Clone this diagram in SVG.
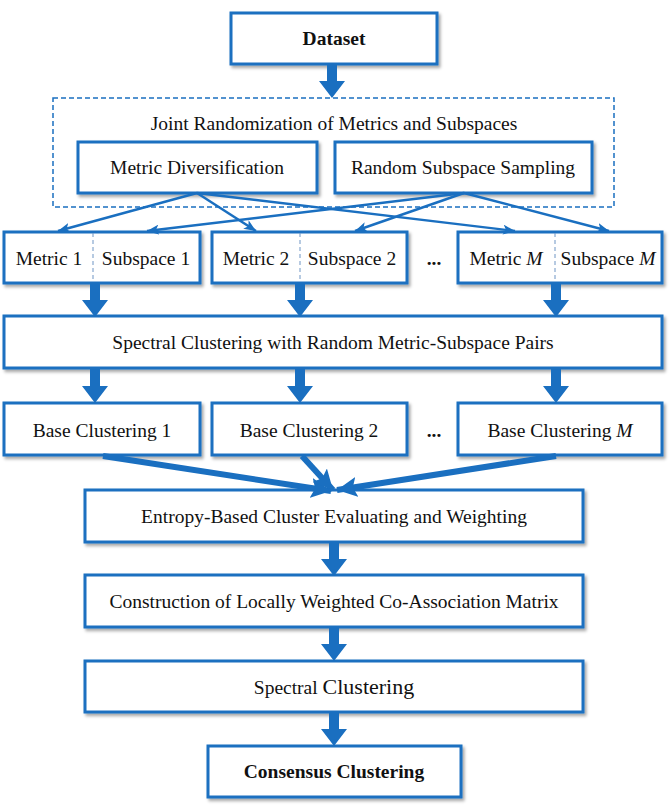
<svg xmlns="http://www.w3.org/2000/svg" width="670" height="807" viewBox="0 0 670 807">
<defs>
<filter id="sh" x="-5%" y="-5%" width="110%" height="130%">
<feDropShadow dx="2" dy="2.5" stdDeviation="1.5" flood-color="#000" flood-opacity="0.35"/>
</filter>
<marker id="ah" markerUnits="userSpaceOnUse" markerWidth="14" markerHeight="10" refX="12" refY="5" orient="auto">
<path d="M0,0 L12,5 L0,10 L3,5 z" fill="#1a6fc0"/>
</marker>
<marker id="ahb" markerUnits="userSpaceOnUse" markerWidth="22" markerHeight="20" refX="20" refY="10" orient="auto">
<path d="M0,0 L20,10 L0,20 L4,10 z" fill="#1a6fc0"/>
</marker>
<path id="big" d="M-5,0 L5,0 L5,17 L13,17 L0,34 L-13,17 L-5,17 z"/>
</defs>
<style>
.box{fill:#fff;stroke:#1a6fc0;stroke-width:3;filter:url(#sh)}
.t{font-family:"Liberation Serif","Times New Roman",serif;font-size:19.5px;fill:#111;text-anchor:middle}
.b{font-weight:bold}
.thin{stroke:#1a6fc0;stroke-width:2.4;fill:none;marker-end:url(#ah)}
.thick{stroke:#1a6fc0;stroke-width:6;fill:none;marker-end:url(#ahb)}
.div{stroke:#6f95c4;stroke-width:1;stroke-dasharray:4,3}
.arr{fill:#1a6fc0}
</style>

<g id="dataset">
<rect class="box" x="231" y="13" width="206" height="51"/>
<text class="t b" x="334" y="45">Dataset</text>
</g>

<g id="joint">
<rect x="53" y="98" width="561" height="109" fill="none" stroke="#1a6fc0" stroke-width="1.5" stroke-dasharray="5,3"/>
<text class="t" x="334" y="130">Joint Randomization of Metrics and Subspaces</text>
</g>

<g id="metric-div">
<rect class="box" x="78" y="142" width="239" height="51"/>
<text class="t" x="197" y="174">Metric Diversification</text>
</g>

<g id="subspace-samp">
<rect class="box" x="335" y="142" width="257" height="51"/>
<text class="t" x="463" y="174">Random Subspace Sampling</text>
</g>

<g id="pair1">
<rect class="box" x="4" y="232" width="196" height="51"/>
<line class="div" x1="93" y1="233" x2="93" y2="282"/>
<text class="t" x="49" y="265">Metric 1</text>
<text class="t" x="146" y="265">Subspace 1</text>
</g>

<g id="pair2">
<rect class="box" x="212" y="232" width="195" height="51"/>
<line class="div" x1="300" y1="233" x2="300" y2="282"/>
<text class="t" x="256" y="265">Metric 2</text>
<text class="t" x="352" y="265">Subspace 2</text>
</g>

<g id="dots1">
<text class="t b" x="434" y="265">...</text>
</g>

<g id="pairM">
<rect class="box" x="458" y="232" width="204" height="51"/>
<line class="div" x1="555" y1="233" x2="555" y2="282"/>
<text class="t" x="506" y="265">Metric <tspan font-style="italic">M</tspan></text>
<text class="t" x="608" y="265">Subspace <tspan font-style="italic">M</tspan></text>
</g>

<g id="spectral-pairs">
<rect class="box" x="4" y="316" width="658" height="52"/>
<text class="t" x="333" y="349">Spectral Clustering with Random Metric-Subspace Pairs</text>
</g>

<g id="base1">
<rect class="box" x="4" y="403" width="196" height="52"/>
<text class="t" x="102" y="437">Base Clustering 1</text>
</g>
<g id="base2">
<rect class="box" x="212" y="403" width="195" height="52"/>
<text class="t" x="309" y="437">Base Clustering 2</text>
</g>
<g id="dots2">
<text class="t b" x="434" y="437">...</text>
</g>
<g id="baseM">
<rect class="box" x="458" y="403" width="204" height="52"/>
<text class="t" x="560" y="437">Base Clustering <tspan font-style="italic">M</tspan></text>
</g>

<g id="entropy">
<rect class="box" x="85" y="490" width="498" height="52"/>
<text class="t" x="334" y="523">Entropy-Based Cluster Evaluating and Weighting</text>
</g>

<g id="construction">
<rect class="box" x="85" y="575" width="498" height="52"/>
<text class="t" x="334" y="608">Construction of Locally Weighted Co-Association Matrix</text>
</g>

<g id="spectral">
<rect class="box" x="85" y="661" width="498" height="51"/>
<text class="t" x="334" y="694">Spectral <tspan font-size="22px">Clustering</tspan></text>
</g>

<g id="consensus">
<rect class="box" x="208" y="746" width="253" height="51"/>
<text class="t b" x="334" y="778">Consensus Clustering</text>
</g>

<g id="connectors">
<use href="#big" class="arr" x="332" y="64"/>
<line class="thin" x1="197" y1="193" x2="58" y2="231"/>
<line class="thin" x1="197" y1="193" x2="256" y2="231"/>
<line class="thin" x1="197" y1="193" x2="515" y2="231"/>
<line class="thin" x1="464" y1="193" x2="147" y2="231"/>
<line class="thin" x1="464" y1="193" x2="355" y2="231"/>
<line class="thin" x1="464" y1="193" x2="609" y2="231"/>
<use href="#big" class="arr" x="95" y="283"/>
<use href="#big" class="arr" x="300" y="283"/>
<use href="#big" class="arr" x="556" y="283"/>
<use href="#big" class="arr" x="95" y="369"/>
<use href="#big" class="arr" x="300" y="369"/>
<use href="#big" class="arr" x="556" y="369"/>
<line class="thick" x1="103" y1="456" x2="331" y2="491"/>
<line class="thick" x1="302" y1="456" x2="333" y2="490"/>
<line class="thick" x1="556" y1="456" x2="337" y2="490"/>
<use href="#big" class="arr" x="334" y="542"/>
<use href="#big" class="arr" x="334" y="627"/>
<use href="#big" class="arr" x="334" y="712"/>
</g>
</svg>
